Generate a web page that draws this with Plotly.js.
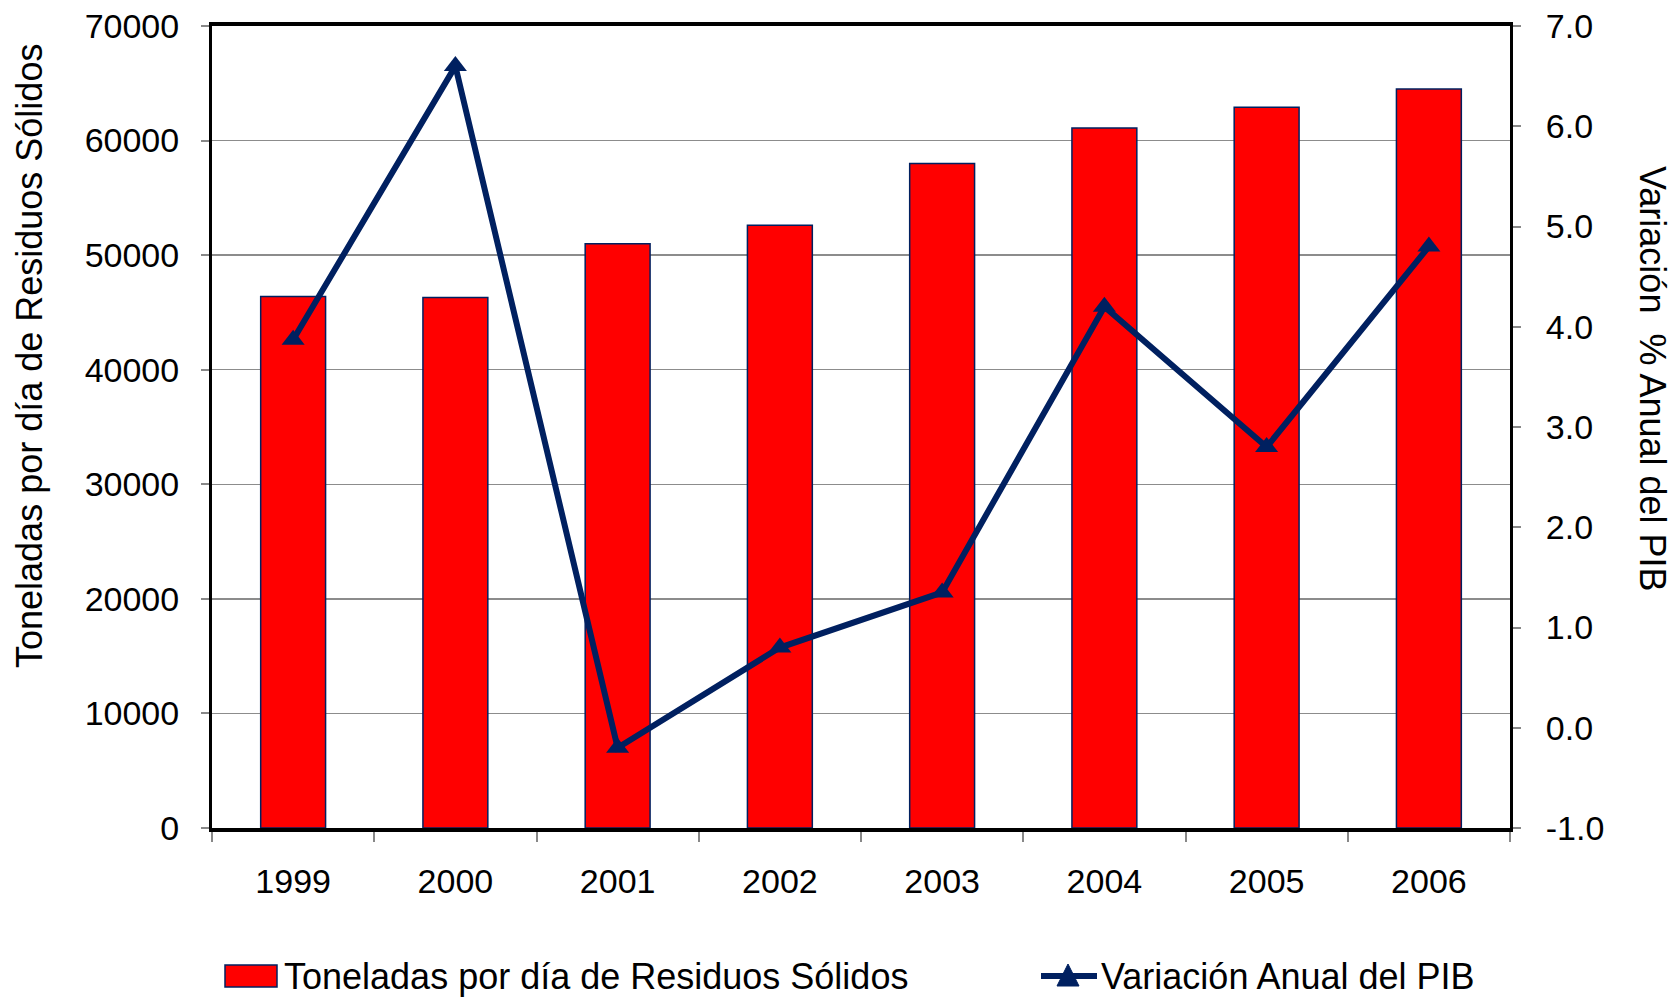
<!DOCTYPE html>
<html>
<head>
<meta charset="utf-8">
<script src="https://cdn.plot.ly/plotly-3.0.1.min.js"></script>
<style>
  html, body { margin: 0; padding: 0; background: #fff; }
  #chart { width: 1674px; height: 999px; }
</style>
</head>
<body>
<div id="chart"></div>
<script>
const years = ['1999', '2000', '2001', '2002', '2003', '2004', '2005', '2006'];
const toneladas = [46400, 46300, 51000, 52600, 58000, 61100, 62900, 64500];
const pib = [3.87, 6.6, -0.2, 0.8, 1.35, 4.2, 2.8, 4.8];
const pibTicks = [-1, 0, 1, 2, 3, 4, 5, 6, 7];
const pibTickText = ['-1.0', '0.0', '1.0', '2.0', '3.0', '4.0', '5.0', '6.0', '7.0'];

const red = '#ff0000';
const navy = '#002060';
const font = 'Liberation Sans, Arial, sans-serif';

// plot area in pixels: x 212..1510, y 26..828
const L = 212, R = 1510, T = 26, B = 828;
const px = (x) => (x - L) / (R - L);
const py = (y) => (B - y) / (B - T);

const bars = {
    x: years,
    y: toneladas,
    type: 'bar',
    name: 'Toneladas por día de Residuos Sólidos',
    marker: { color: red, line: { color: navy, width: 1.5 } },
    hoverinfo: 'skip'
};

const line = {
    x: years,
    y: pib,
    yaxis: 'y2',
    type: 'scatter',
    mode: 'lines+markers',
    name: 'Variación Anual del PIB',
    line: { color: navy, width: 6 },
    marker: { symbol: 'triangle-up', size: 20, color: navy },
    hoverinfo: 'skip'
};

const tickFont = { family: font, size: 34, color: '#000' };
const titleFont = { family: font, size: 36, color: '#000' };

// legend row sits a little above the bottom edge
const legY = 976;

const layout = {
    width: 1674,
    height: 999,
    margin: { l: L, r: 1674 - R, t: T, b: 999 - B },
    paper_bgcolor: '#fff',
    plot_bgcolor: '#fff',
    showlegend: false,
    bargap: 0.6,
    xaxis: {
        type: 'category',
        showline: true,
        linecolor: '#000',
        linewidth: 4,
        mirror: true,
        ticks: 'outside',
        tickson: 'boundaries',
        ticklen: 10,
        tickwidth: 2,
        tickcolor: '#888',
        ticklabelstandoff: 20,
        tickfont: tickFont,
        showgrid: false
    },
    yaxis: {
        range: [0, 70000],
        dtick: 10000,
        tickformat: 'd',
        showgrid: true,
        gridcolor: '#8c8c8c',
        gridwidth: 1.5,
        zeroline: false,
        showline: true,
        linecolor: '#000',
        linewidth: 3,
        ticks: 'outside',
        ticklen: 8,
        tickwidth: 2,
        tickcolor: '#888',
        ticklabelstandoff: 15,
        tickfont: tickFont
    },
    yaxis2: {
        overlaying: 'y',
        side: 'right',
        range: [-1, 7],
        tickmode: 'array',
        tickvals: pibTicks,
        ticktext: pibTickText,
        showgrid: false,
        zeroline: false,
        showline: true,
        linecolor: '#000',
        linewidth: 3,
        ticks: 'outside',
        ticklen: 8,
        tickwidth: 2,
        tickcolor: '#888',
        ticklabelstandoff: 18,
        tickfont: tickFont
    },
    annotations: [
        {
            text: 'Toneladas por día de Residuos Sólidos',
            xref: 'paper', yref: 'paper',
            x: px(29), y: py(356),
            xanchor: 'center', yanchor: 'middle',
            textangle: -90, showarrow: false,
            font: titleFont
        },
        {
            text: 'Variación  % Anual del PIB',
            xref: 'paper', yref: 'paper',
            x: px(1652), y: py(379),
            xanchor: 'center', yanchor: 'middle',
            textangle: 90, showarrow: false,
            font: titleFont
        },
        {
            text: 'Toneladas por día de Residuos Sólidos',
            xref: 'paper', yref: 'paper',
            x: px(282), y: py(legY),
            xanchor: 'left', yanchor: 'middle',
            showarrow: false,
            font: titleFont
        },
        {
            text: 'Variación Anual del PIB',
            xref: 'paper', yref: 'paper',
            x: px(1099), y: py(legY),
            xanchor: 'left', yanchor: 'middle',
            showarrow: false,
            font: titleFont
        }
    ],
    shapes: [
        // legend swatches
        {
            type: 'rect', xref: 'paper', yref: 'paper',
            x0: px(225), x1: px(277), y0: py(legY + 11), y1: py(legY - 11),
            fillcolor: red, line: { color: navy, width: 1.5 }
        },
        {
            type: 'line', xref: 'paper', yref: 'paper',
            x0: px(1041), x1: px(1097), y0: py(legY), y1: py(legY),
            line: { color: navy, width: 6 }
        },
        {
            type: 'path', xref: 'paper', yref: 'paper',
            path: 'M' + px(1068) + ',' + py(legY - 12) + ' L' + px(1057) + ',' + py(legY + 10) +
                  ' L' + px(1079) + ',' + py(legY + 10) + ' Z',
            fillcolor: navy, line: { color: navy, width: 1 }
        }
    ]
};

Plotly.newPlot('chart', [bars, line], layout, { displayModeBar: false, staticPlot: true });
</script>
</body>
</html>
